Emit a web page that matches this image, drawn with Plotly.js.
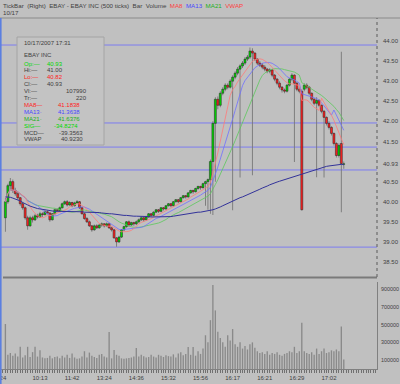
<!DOCTYPE html>
<html><head><meta charset="utf-8">
<script src="https://cdn.plot.ly/plotly-3.0.1.min.js"></script>
<style>html,body{margin:0;padding:0;background:#c0c0c0;}#chart{width:400px;height:384px;}</style>
</head><body><div id="chart"></div>
<script>
const opens = [39.60,40.00,40.40,40.50,40.28,40.20,40.10,39.95,39.85,39.60,
 39.40,39.60,39.55,39.65,39.62,39.70,39.68,39.75,39.72,39.55,
 39.70,39.80,39.78,39.85,39.95,40.00,39.92,39.98,39.90,39.97,
 40.00,39.85,39.70,39.58,39.50,39.40,39.30,39.40,39.35,39.42,
 39.45,39.40,39.45,39.35,39.30,39.10,39.00,39.12,39.30,39.38,
 39.50,39.42,39.48,39.45,39.50,39.55,39.60,39.55,39.62,39.70,
 39.66,39.74,39.80,39.76,39.85,39.82,39.90,39.95,39.90,40.00,
 40.05,40.00,40.10,40.15,40.12,40.22,40.28,40.25,40.33,40.38,
 40.35,40.45,40.50,40.55,41.00,41.95,42.55,42.40,42.70,42.80,
 42.90,42.85,43.00,43.10,43.20,43.30,43.38,43.45,43.55,43.60,
 43.75,43.70,43.55,43.45,43.40,43.35,43.30,43.25,43.28,43.15,
 43.05,42.95,42.85,42.78,42.75,42.90,43.05,43.15,42.95,42.80,
 42.75,42.80,42.90,42.85,42.70,42.55,42.45,42.52,42.40,42.25,
 42.10,41.95,41.85,41.70,41.45,41.15,41.45,40.93];
const closes = [40.00,40.40,40.50,40.28,40.20,40.10,39.95,39.85,39.60,39.40,
 39.60,39.55,39.65,39.62,39.70,39.68,39.75,39.72,39.55,39.70,
 39.80,39.78,39.85,39.95,40.00,39.92,39.98,39.90,39.97,40.00,
 39.85,39.70,39.58,39.50,39.40,39.30,39.40,39.35,39.42,39.45,
 39.40,39.45,39.35,39.30,39.10,39.00,39.12,39.30,39.38,39.50,
 39.42,39.48,39.45,39.50,39.55,39.60,39.55,39.62,39.70,39.66,
 39.74,39.80,39.76,39.85,39.82,39.90,39.95,39.90,40.00,40.05,
 40.00,40.10,40.15,40.12,40.22,40.28,40.25,40.33,40.38,40.35,
 40.45,40.50,40.55,41.00,41.95,42.55,42.40,42.70,42.80,42.90,
 42.85,43.00,43.10,43.20,43.30,43.38,43.45,43.55,43.60,43.75,
 43.70,43.55,43.45,43.40,43.35,43.30,43.25,43.28,43.15,43.05,
 42.95,42.85,42.78,42.75,42.90,43.05,43.15,42.95,42.80,42.75,
 39.80,42.90,42.85,42.70,42.55,42.45,42.52,42.40,42.25,42.10,
 41.95,41.85,41.70,41.45,41.15,41.40,40.95,40.93];
const highs = [40.10,40.45,40.59,40.55,40.35,40.25,40.12,40.00,39.88,39.65,
 39.65,39.65,39.70,39.70,39.75,39.74,39.80,39.78,39.74,39.72,
 39.83,39.84,39.88,39.98,40.03,40.04,40.01,40.00,40.00,40.04,
 40.02,39.87,39.73,39.62,39.53,39.42,39.43,39.44,39.45,39.48,
 39.47,39.48,39.47,39.38,39.32,39.12,39.15,39.32,39.40,39.52,
 39.53,39.50,39.50,39.53,39.58,39.63,39.62,39.65,39.72,39.72,
 39.76,39.82,39.82,39.87,39.87,39.92,39.97,39.97,40.02,40.07,
 40.07,40.12,40.17,40.17,40.24,40.30,40.30,40.35,40.40,40.40,
 40.47,40.52,40.58,41.05,42.00,42.60,42.62,42.75,42.85,42.95,
 42.95,43.05,43.15,43.25,43.35,43.42,43.50,43.60,43.65,43.84,
 43.82,43.72,43.58,43.50,43.45,43.40,43.33,43.32,43.30,43.18,
 43.08,43.00,42.88,42.82,42.93,43.08,43.20,43.17,42.98,42.85,
 42.80,42.95,42.95,42.88,42.72,42.58,42.60,42.55,42.42,42.28,
 42.12,42.00,41.88,41.72,41.48,41.45,43.73,41.00];
const lows = [39.25,39.95,40.30,40.22,40.15,40.05,39.90,39.80,39.55,39.30,
 39.38,39.48,39.52,39.58,39.60,39.62,39.66,39.68,39.50,39.53,
 39.68,39.74,39.76,39.83,39.92,39.88,39.90,39.86,39.88,39.95,
 39.82,39.68,39.55,39.47,39.37,39.25,39.28,39.32,39.33,39.38,
 39.36,39.38,39.32,39.26,39.08,38.88,38.97,39.10,39.27,39.35,
 39.38,39.40,39.40,39.42,39.47,39.52,39.50,39.53,39.60,39.62,
 39.64,39.72,39.72,39.74,39.78,39.80,39.88,39.86,39.88,39.98,
 39.96,39.98,40.08,40.08,40.10,40.20,40.20,40.23,40.30,40.30,
 40.33,39.90,39.80,39.70,39.67,40.50,42.30,42.35,42.65,42.75,
 42.80,42.82,39.79,43.05,43.15,40.60,43.33,43.40,43.50,43.55,
 40.66,43.50,43.40,43.35,43.30,43.25,43.20,43.20,43.10,43.00,
 42.90,42.80,42.72,42.70,42.72,42.87,43.00,40.99,42.75,42.70,
 39.78,42.75,42.80,42.65,42.50,42.40,40.61,42.35,42.20,40.60,
 41.90,41.80,41.65,41.40,41.10,41.10,39.74,40.82];
const volumes = [507000,160000,180000,150000,175000,140000,250000,130000,155000,250000,
 135000,190000,250000,140000,210000,130000,120000,125000,150000,120000,
 135000,140000,120000,150000,130000,160000,125000,175000,130000,115000,
 120000,140000,200000,130000,185000,150000,135000,125000,160000,170000,
 140000,130000,417000,120000,214000,160000,150000,120000,115000,120000,
 125000,130000,140000,236000,140000,160000,145000,130000,135000,160000,
 140000,130000,160000,150000,135000,155000,145000,140000,165000,130000,
 175000,190000,155000,170000,248000,160000,248000,150000,200000,170000,
 230000,380000,300000,550000,945000,660000,420000,350000,300000,250000,
 380000,320000,450000,280000,250000,300000,230000,260000,220000,280000,
 300000,240000,200000,180000,190000,170000,200000,160000,180000,170000,
 190000,160000,150000,170000,180000,200000,190000,250000,180000,200000,
 520000,200000,180000,170000,190000,160000,230000,170000,200000,230000,
 180000,190000,210000,200000,220000,200000,480000,107990];
// VWAP study values (includes volume from before the visible bars)
const vwapValues = [40.12,40.12,40.11,40.09,40.07,40.04,40.02,39.98,39.94,39.92,
 39.89,39.87,39.84,39.83,39.82,39.81,39.79,39.78,39.77,39.76,
 39.76,39.76,39.76,39.76,39.76,39.76,39.76,39.76,39.76,39.75,
 39.75,39.75,39.74,39.74,39.74,39.74,39.73,39.73,39.73,39.72,
 39.71,39.71,39.70,39.70,39.69,39.68,39.68,39.67,39.66,39.66,
 39.65,39.65,39.64,39.64,39.64,39.63,39.63,39.63,39.63,39.62,
 39.62,39.62,39.62,39.62,39.62,39.62,39.63,39.63,39.64,39.65,
 39.66,39.67,39.68,39.70,39.71,39.72,39.73,39.73,39.74,39.74,
 39.75,39.76,39.77,39.78,39.80,39.82,39.84,39.87,39.90,39.93,
 39.96,39.99,40.02,40.04,40.07,40.10,40.12,40.15,40.18,40.20,
 40.23,40.25,40.28,40.31,40.34,40.36,40.39,40.42,40.45,40.47,
 40.49,40.51,40.53,40.55,40.57,40.59,40.61,40.63,40.65,40.67,
 40.69,40.71,40.73,40.75,40.77,40.79,40.81,40.83,40.85,40.86,
 40.88,40.89,40.90,40.91,40.92,40.93,40.93,40.92];
const tickIndex = [-2,14,27,40,53,66,79,92,105,118,131];
const tickLabels = ["9:24","10:13","11:42","13:24","14:36","15:32","15:56","16:17","16:21","16:29","17:02"];
const priceTicks = [38.5,39,39.5,40,40.5,40.93,41.5,42,42.5,43,43.5,44];
const volumeTicks = [100000,300000,500000,700000,900000];
const levelLines = [43.90,41.96,41.36,40.79,38.87];
const maPeriods = [8,13,21];
const legendDate = "10/17/2007 17:31";
const legendName = "EBAY INC";
const legendTrades = "220";
const legendStudies = [["MA8—","41.1838"],["MA13·","41.3638"],["MA21·","41.6376"],["SIG—","-34.8274"],["MCD—","-39.3563"],["VWAP","40.9230"]];

const N = closes.length;
const idx = closes.map((_, i) => i);
function sma(a, n) { return a.map((_, i) => { const s = Math.max(0, i - n + 1); let t = 0; for (let k = s; k <= i; k++) t += a[k]; return t / (i - s + 1); }); }

const W = 400, H = 384, ML = 0, MR = 23, MT = 18, MB = 15;
const PW = W - ML - MR, PH = H - MT - MB;
const px = x => (x - ML) / PW, py = y => (H - MB - y) / PH;

const FONT = "Liberation Sans, Arial, sans-serif";
const GREEN = "#00d800", RED = "#ff2020", DARK = "#404040";

const up = idx.filter(i => closes[i] >= opens[i]);
const dn = idx.filter(i => closes[i] < opens[i]);
function bodyTrace(ids, color) {
  return { type: "bar", x: ids, base: ids.map(i => Math.min(opens[i], closes[i])),
    y: ids.map(i => Math.max(Math.abs(closes[i] - opens[i]), 0.015)), width: 0.8,
    marker: { color: color, line: { color: "#202020", width: 0.5 } }, xaxis: "x", yaxis: "y", hoverinfo: "skip" };
}
const traces = [
  { type: "bar", x: idx, base: lows, y: idx.map(i => highs[i] - lows[i]), width: 0.38,
    marker: { color: "#7a7a7a", line: { width: 0 } }, xaxis: "x", yaxis: "y", hoverinfo: "skip" },
  bodyTrace(up, GREEN), bodyTrace(dn, RED),
  { type: "scatter", mode: "lines", x: idx, y: sma(closes, maPeriods[2]), line: { color: "#5cc85c", width: 0.8 }, xaxis: "x", yaxis: "y", hoverinfo: "skip" },
  { type: "scatter", mode: "lines", x: idx, y: sma(closes, maPeriods[1]), line: { color: "#7070ff", width: 0.8 }, xaxis: "x", yaxis: "y", hoverinfo: "skip" },
  { type: "scatter", mode: "lines", x: idx, y: sma(closes, maPeriods[0]), line: { color: "#ff7a7a", width: 0.8 }, xaxis: "x", yaxis: "y", hoverinfo: "skip" },
  { type: "scatter", mode: "lines", x: idx, y: vwapValues, line: { color: "#32329a", width: 1 }, xaxis: "x", yaxis: "y", hoverinfo: "skip" },
  { type: "bar", x: idx, y: volumes, width: 0.55, marker: { color: "#8a8a8a", line: { width: 0 } }, xaxis: "x", yaxis: "y2", hoverinfo: "skip" }
];

const shapes = [];
levelLines.forEach(v => shapes.push({ type: "line", xref: "paper", yref: "y", x0: 0, x1: 1, y0: v, y1: v, line: { color: "#7c7cf0", width: 1 }, layer: "below" }));
shapes.push({ type: "line", xref: "paper", yref: "paper", x0: 0, x1: W / PW, y0: 1, y1: 1, line: { color: "#8a8a8a", width: 1 } });
shapes.push({ type: "line", xref: "paper", yref: "paper", x0: px(3), x1: 1, y0: py(277.5), y1: py(277.5), line: { color: "#7a7a7a", width: 2 } });
shapes.push({ type: "line", xref: "paper", yref: "paper", x0: 1, x1: 1, y0: py(277), y1: 1, line: { color: "#5a5a5a", width: 1, dash: "dot" } });
shapes.push({ type: "rect", xref: "paper", yref: "paper", x0: 0, x1: px(1.6), y0: py(384), y1: py(18), fillcolor: "#5b7fe0", line: { width: 0 } });
shapes.push({ type: "rect", xref: "paper", yref: "paper", x0: px(17), x1: px(104), y0: py(145), y1: py(37), fillcolor: "#c3c3c3", line: { color: "#a4a4a4", width: 1 } });

const ann = [];
function T(text, x, y, anchor, color, size) {
  ann.push({ text: text, xref: "paper", yref: "paper", x: px(x), y: py(y), xanchor: anchor, yanchor: "middle", showarrow: false,
    font: { family: FONT, size: size || 6, color: color || DARK } });
}
T("TickBar&nbsp; (Right)&nbsp; EBAY - EBAY INC (500 ticks)&nbsp; Bar&nbsp; Volume&nbsp; <span style='color:#ff4040'>MA8</span>&nbsp; <span style='color:#4848ff'>MA13</span>&nbsp; <span style='color:#20b020'>MA21</span>&nbsp; <span style='color:#ff4040'>VWAP</span>", 1, 5, "left", DARK, 6.2);
T("10/17", 1, 12.5, "left", DARK, 6.2);
T(legendDate, 22, 42.5, "left");
T(legendName, 22, 55.5, "left");
const L = N - 1;
const rows = [
  ["Op:—", opens[L].toFixed(2), GREEN, 65],
  ["Hi:—", highs[L].toFixed(2), DARK, 65],
  ["Lo:—", lows[L].toFixed(2), RED, 65],
  ["Cl:—", closes[L].toFixed(2), DARK, 65],
  ["Vl:—", String(volumes[L]), DARK, 89],
  ["Tr:—", legendTrades, DARK, 89],
  [legendStudies[0][0], legendStudies[0][1], RED, 82],
  [legendStudies[1][0], legendStudies[1][1], "#4848ff", 82],
  [legendStudies[2][0], legendStudies[2][1], "#20b020", 82],
  [legendStudies[3][0], legendStudies[3][1], GREEN, 80],
  [legendStudies[4][0], legendStudies[4][1], DARK, 85],
  [legendStudies[5][0], legendStudies[5][1], DARK, 85]
];
rows.forEach((r, k) => { const y = 63.5 + k * 6.9; T(r[0], 22, y, "left", r[2]); T(r[1], r[3], y, "right", r[2]); });

const layout = {
  width: W, height: H, margin: { l: ML, r: MR, t: MT, b: MB, pad: 0 },
  paper_bgcolor: "#c0c0c0", plot_bgcolor: "#c0c0c0", showlegend: false, barmode: "overlay",
  font: { family: FONT, size: 6, color: DARK },
  xaxis: { range: [-5.4 / 2.47, (PW - 5.4) / 2.47], tickmode: "array", tickvals: tickIndex, ticktext: tickLabels,
    ticks: "outside", ticklen: 3, tickcolor: "#707070", showgrid: false, zeroline: false, showline: true, linecolor: "#808080",
    anchor: "y2", tickfont: { family: FONT, size: 6, color: DARK }, ticklabeloverflow: "allow",
    minor: { dtick: 1, tick0: 0, ticks: "outside", ticklen: 3, tickcolor: "#707070", showgrid: false } },
  yaxis: { domain: [py(277), 1], range: [44 - (277 - 41) / 40.18, 44 + (41 - 18) / 40.18], side: "right", anchor: "x",
    tickmode: "array", tickvals: priceTicks, ticktext: priceTicks.map(v => v.toFixed(2)), ticks: "", showgrid: false, zeroline: false,
    showline: false, tickfont: { family: FONT, size: 6, color: DARK }, ticklabelstandoff: 5 },
  yaxis2: { domain: [0, py(282)], range: [0, 980000], side: "right", anchor: "x",
    tickmode: "array", tickvals: volumeTicks, ticktext: volumeTicks.map(v => String(v)), ticks: "", showgrid: false, zeroline: false,
    showline: true, linecolor: "#808080", tickfont: { family: FONT, size: 5.4, color: DARK }, ticklabelstandoff: 2 },
  shapes: shapes, annotations: ann
};
Plotly.newPlot("chart", traces, layout, { staticPlot: true, displayModeBar: false });
</script></body></html>
